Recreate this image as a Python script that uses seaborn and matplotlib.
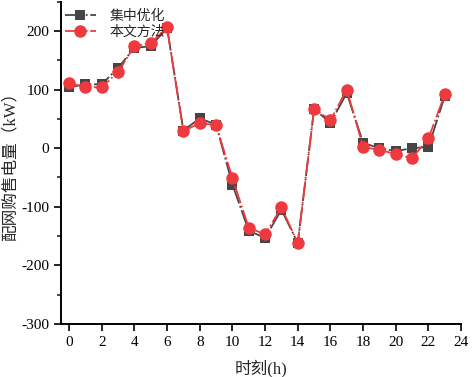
import matplotlib
matplotlib.use("Agg")
import matplotlib.pyplot as plt
import seaborn as sns
import pandas as pd
from matplotlib.ticker import MultipleLocator

hours = list(range(24))
central = [104, 109, 109, 137, 171, 174, 205, 30, 51, 40, -62, -141, -153, -105, -162,
           67, 43, 94, 9, 0, -5, 0, 2, 89]
proposed = [111, 104, 104, 130, 174, 179, 206, 29, 43, 39, -51, -136, -147, -101, -162,
            67, 48, 100, 2, -3, -10, -17, 17, 92]
series_names = ["集中优化", "本文方法"]
xticks = list(range(0, 25, 2))
yticks = [-300, -200, -100, 0, 100, 200]

sns.set_style("ticks")
plt.rcParams['font.family'] = ['Liberation Serif', 'Noto Sans CJK SC']
plt.rcParams['axes.unicode_minus'] = False

fig = plt.figure(figsize=(4.72, 3.77), dpi=100)
ax = fig.add_axes([0.129, 0.1406, 0.848, 0.855])

df = pd.DataFrame({"h": hours, "c": central, "p": proposed})
sns.lineplot(data=df, x="h", y="c", ax=ax, color="#454545", marker="s", markersize=7.5,
             markeredgewidth=0, linewidth=1.3, label=series_names[0], dashes=False)
sns.lineplot(data=df, x="h", y="p", ax=ax, color="#EE3A3F", marker="o", markersize=9,
             markeredgewidth=0, linewidth=1.3, label=series_names[1], dashes=False)
for ln in ax.lines:
    ln.set_dashes([10, 1.5, 1, 1.5])

ax.set_xlim(-0.5, 24)
ax.set_ylim(-300, 250)
ax.set_xticks(xticks)
ax.set_yticks(yticks)
ax.yaxis.set_minor_locator(MultipleLocator(50))
ax.tick_params(axis="both", which="major", direction="out", length=5, width=1.2,
               labelsize=11, colors="black")
ax.tick_params(axis="y", which="minor", direction="out", length=3, width=1.2)
for s in ["top", "right"]:
    ax.spines[s].set_visible(False)
for s in ["left", "bottom"]:
    ax.spines[s].set_linewidth(1.4)
    ax.spines[s].set_color("black")

ax.set_xlabel("时刻(h)", fontsize=12, labelpad=8)
ax.set_ylabel("配网购售电量（kW）", fontsize=12, labelpad=2)

leg = ax.legend(loc="upper left", frameon=False, fontsize=10, bbox_to_anchor=(-0.01, 1.0),
                handlelength=2.2, handletextpad=1.0, labelspacing=0.15, borderaxespad=0.2)

fig.savefig("out.png", dpi=100)
